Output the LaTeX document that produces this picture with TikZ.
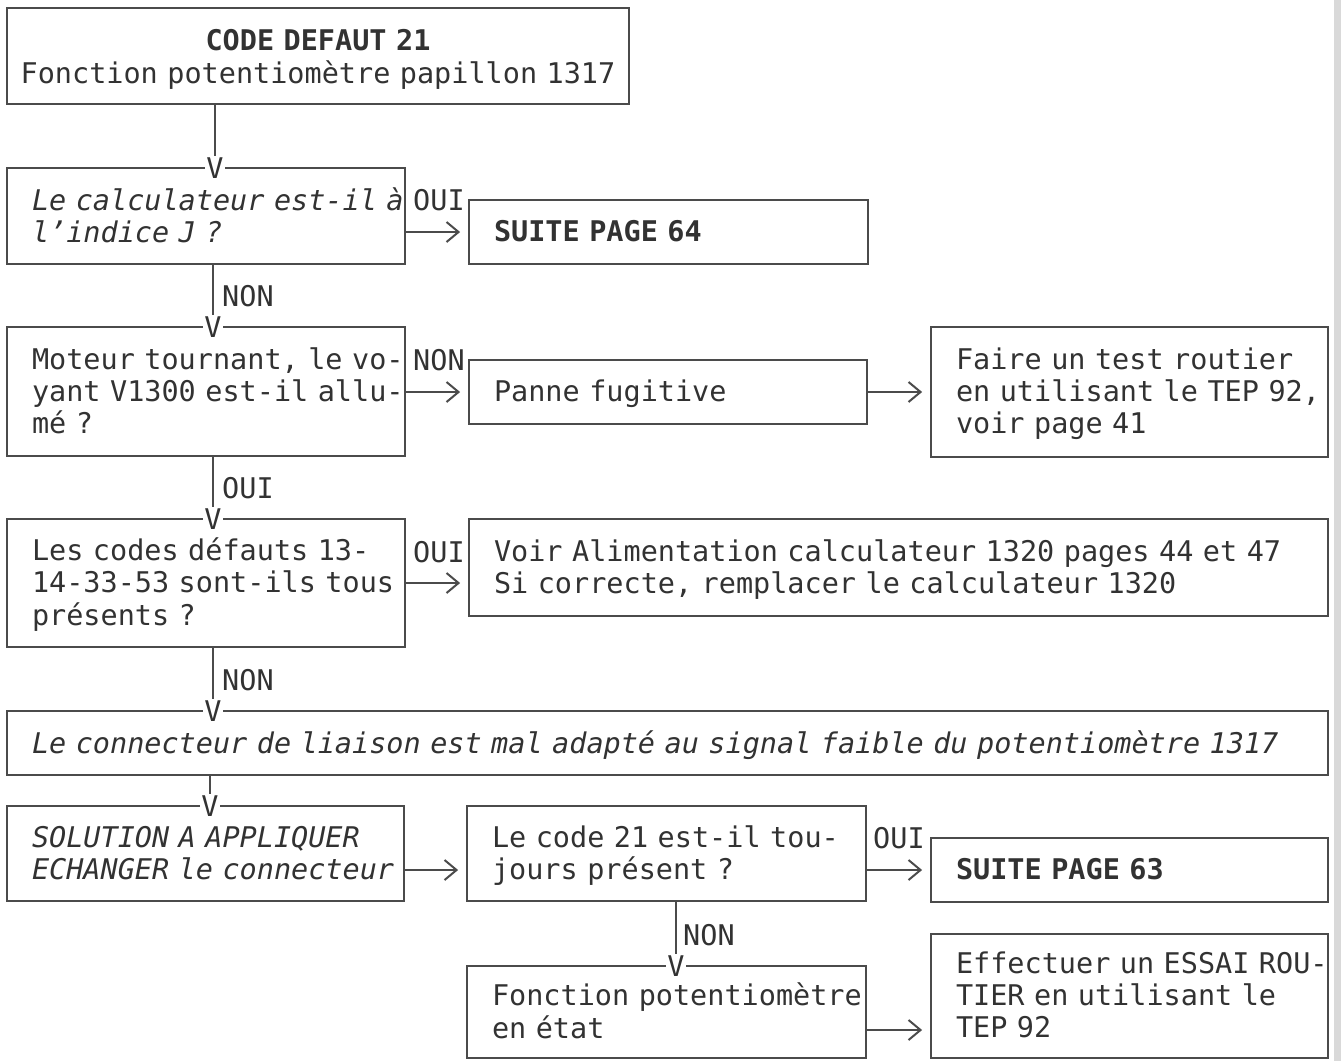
\documentclass[tikz,border=0pt]{standalone}
\usepackage{fontspec}
\setmainfont{DejaVu Sans Mono}
\setmonofont{DejaVu Sans Mono}
\usetikzlibrary{arrows.meta,calc}
\definecolor{ink}{RGB}{50,50,50}
\definecolor{rulec}{RGB}{75,75,75}
\newcommand\mylines[1]{\raisebox{-3.5pt}[\height][\depth]{\begin{tabular}{@{}l@{}}#1\end{tabular}}}
\newcommand\mycentred[1]{\raisebox{-4.5pt}[\height][\depth]{\begin{tabular}{@{}c@{}}#1\end{tabular}}}
\begin{document}
\begin{tikzpicture}[x=1pt,y=-1pt,
  every node/.style={font=\fontsize{28.5}{32}\selectfont, text=ink},
  box/.style={draw=rulec, line width=1.8pt, rectangle, inner xsep=25pt, inner ysep=0pt, align=left},
  conn/.style={draw=rulec, line width=1.8pt},
  harrow/.style={conn, -{Straight Barb[length=12pt,width=20pt,line width=2pt]}},
  vtip/.style={fill=white, inner sep=1pt},
  lab/.style={inner sep=0pt, anchor=west}]
\useasboundingbox (0,0) rectangle (1341,1061);
\fill[gray!30] (1334,0) rectangle (1341,1061);

% boxes
\node[box, minimum width=622pt, minimum height=96pt, text width=610pt, inner xsep=6pt, align=center] (b1) at (318,56)
  {\mycentred{\textbf{CODE DEFAUT 21}\\Fonction potentiomètre papillon 1317}};
\node[box, minimum width=398pt, minimum height=96pt, text width=348pt] (b2) at (206,216)
  {\itshape\mylines{Le calculateur est-il à\\l'indice J ?}};
\node[box, minimum width=399pt, minimum height=64pt, text width=349pt] (s64) at (668.5,232)
  {\mylines{\textbf{SUITE PAGE 64}}};
\node[box, minimum width=398pt, minimum height=129pt, text width=348pt] (b3) at (206,391.5)
  {\mylines{Moteur tournant, le vo-\\yant V1300 est-il allu-\\mé ?}};
\node[box, minimum width=398pt, minimum height=64pt, text width=348pt] (panne) at (668,392)
  {\mylines{Panne fugitive}};
\node[box, minimum width=397pt, minimum height=130pt, text width=347pt] (faire) at (1129.5,392)
  {\mylines{Faire un test routier\\en utilisant le TEP 92,\\voir page 41}};
\node[box, minimum width=398pt, minimum height=128pt, text width=348pt] (b4) at (206,583)
  {\mylines{Les codes défauts 13-\\14-33-53 sont-ils tous\\présents ?}};
\node[box, minimum width=859pt, minimum height=97pt, text width=809pt] (voir) at (898.5,567.5)
  {\mylines{Voir Alimentation calculateur 1320 pages 44 et 47\\Si correcte, remplacer le calculateur 1320}};
\node[box, minimum width=1321pt, minimum height=64pt, text width=1271pt] (b5) at (667.5,743)
  {\itshape\mylines{Le connecteur de liaison est mal adapté au signal faible du potentiomètre 1317}};
\node[box, minimum width=397pt, minimum height=95pt, text width=347pt] (b6) at (205.5,853.5)
  {\itshape\mylines{SOLUTION A APPLIQUER\\ECHANGER le connecteur}};
\node[box, minimum width=399pt, minimum height=95pt, text width=349pt] (b7) at (666.5,853.5)
  {\mylines{Le code 21 est-il tou-\\jours présent ?}};
\node[box, minimum width=397pt, minimum height=64pt, text width=347pt] (s63) at (1129.5,870)
  {\mylines{\textbf{SUITE PAGE 63}}};
\node[box, minimum width=399pt, minimum height=92pt, text width=349pt] (b9) at (666.5,1012)
  {\mylines{Fonction potentiomètre\\en état}};
\node[box, minimum width=397pt, minimum height=124pt, text width=347pt] (b10) at (1129.5,996)
  {\mylines{Effectuer un ESSAI ROU-\\TIER en utilisant le\\TEP 92}};

% vertical arrow tips
\node[vtip] (v2) at (215,168) {V};
\node[vtip] (v3) at (213,327) {V};
\node[vtip] (v4) at (213,519) {V};
\node[vtip] (v5) at (213,711) {V};
\node[vtip] (v6) at (210,806) {V};
\node[vtip] (v9) at (676,966) {V};

% vertical connectors
\draw[conn] (b1.south -| v2.north) -- (v2.north);
\draw[conn] (b2.south -| v3.north) -- (v3.north);
\draw[conn] (b3.south -| v4.north) -- (v4.north);
\draw[conn] (b4.south -| v5.north) -- (v5.north);
\draw[conn] (b5.south -| v6.north) -- (v6.north);
\draw[conn] (b7.south -| v9.north) -- (v9.north);

% vertical labels
\node[lab] (l3) at (222,296) {NON};
\node[lab] (l4) at (222,488) {OUI};
\node[lab] (l5) at (222,680) {NON};
\node[lab] (l9) at (683,935) {NON};

% horizontal labels
\node[lab] (h2) at (413,200) {OUI};
\node[lab] (h3) at (413,360) {NON};
\node[lab] (h4) at (413,552) {OUI};
\node[lab] (h7) at (873,838) {OUI};

% horizontal arrows
\draw[harrow] (b2.east |- s64.west) -- ($(s64.west)+(-8,0)$);
\draw[harrow] (b3.east |- panne.west) -- ($(panne.west)+(-8,0)$);
\draw[harrow] (panne.east) -- ($(faire.west |- panne.east)+(-8,0)$);
\draw[harrow] (b4.east) -- ($(voir.west |- b4.east)+(-8,0)$);
\draw[harrow] ($(b6.east)+(0,16.5)$) -- ($(b7.west |- b6.east)+(-8,16.5)$);
\draw[harrow] (b7.east |- s63.west) -- ($(s63.west)+(-8,0)$);
\draw[harrow] ($(b9.east)+(0,18)$) -- ($(b10.west |- b9.east)+(-8,18)$);
\end{tikzpicture}
\end{document}
